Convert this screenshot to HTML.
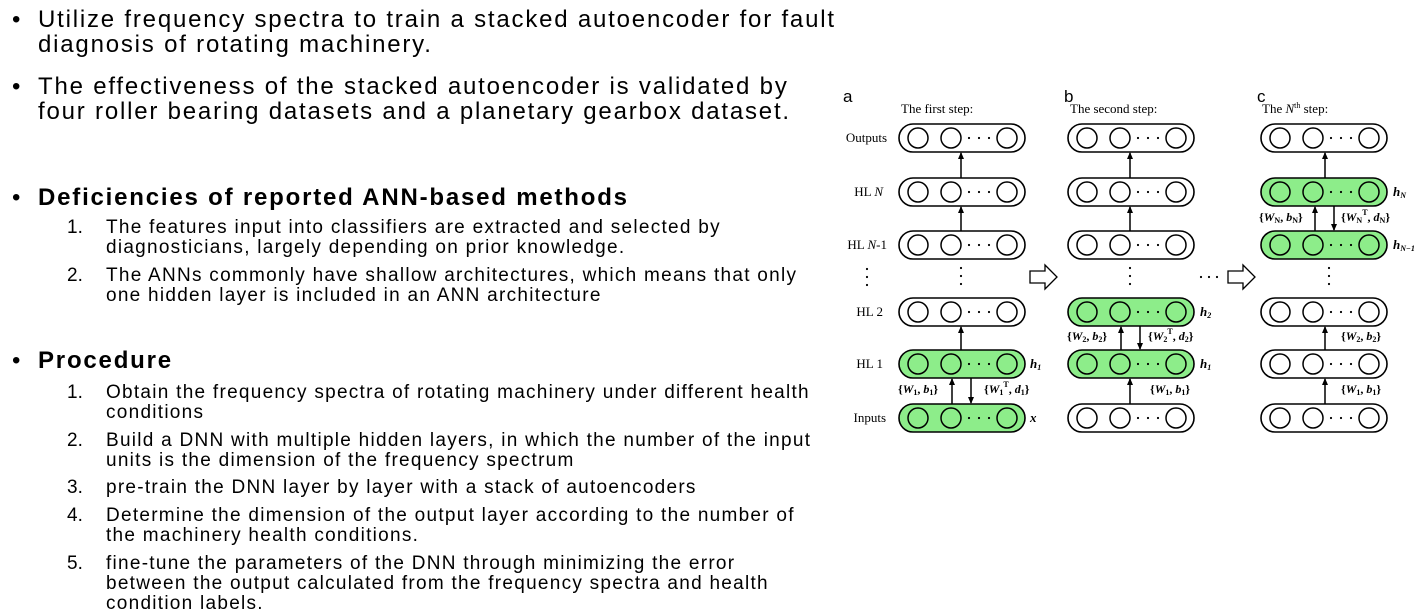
<!DOCTYPE html>
<html><head><meta charset="utf-8"><style>
body{margin:0;width:1420px;height:614px;background:#fff;position:relative;overflow:hidden;font-family:"Liberation Sans","Noto Sans CJK KR",sans-serif;color:#000}
.t{position:absolute;white-space:nowrap;font-size:24px;line-height:25px;letter-spacing:1.8px}
.b{position:absolute;left:12px;font-size:24px;line-height:25px}
.h{font-weight:bold}
.n{position:absolute;left:67px;font-size:19px;line-height:20px}
.s{position:absolute;left:106px;font-size:19px;line-height:20px;white-space:nowrap;letter-spacing:1.27px}
svg{position:absolute;left:0;top:0}
</style></head><body>
<div class="b" style="top:7px">•</div><div class="t" style="left:38px;top:7px">Utilize frequency spectra to train a stacked autoencoder for fault<br>diagnosis of rotating machinery.</div>
<div class="b" style="top:74px">•</div><div class="t" style="left:38px;top:74px">The effectiveness of the stacked autoencoder is validated by<br>four roller bearing datasets and a planetary gearbox dataset.</div>
<div class="b" style="top:185px">•</div><div class="t h" style="left:38px;top:185px">Deficiencies of reported ANN-based methods</div>
<div class="n" style="top:218px">1.</div><div class="s" style="top:218px">The features input into classifiers are extracted and selected by<br>diagnosticians, largely depending on prior knowledge.</div>
<div class="n" style="top:266px">2.</div><div class="s" style="top:266px">The ANNs commonly have shallow architectures, which means that only<br>one hidden layer is included in an ANN architecture</div>
<div class="b" style="top:348px">•</div><div class="t h" style="left:38px;top:348px">Procedure</div>
<div class="n" style="top:383px">1.</div><div class="s" style="top:383px">Obtain the frequency spectra of rotating machinery under different health<br>conditions</div>
<div class="n" style="top:431px">2.</div><div class="s" style="top:431px">Build a DNN with multiple hidden layers, in which the number of the input<br>units is the dimension of the frequency spectrum</div>
<div class="n" style="top:478px">3.</div><div class="s" style="top:478px">pre-train the DNN layer by layer with a stack of autoencoders</div>
<div class="n" style="top:506px">4.</div><div class="s" style="top:506px">Determine the dimension of the output layer according to the number of<br>the machinery health conditions.</div>
<div class="n" style="top:554px">5.</div><div class="s" style="top:554px">fine-tune the parameters of the DNN through minimizing the error<br>between the output calculated from the frequency spectra and health<br>condition labels.</div>

<svg width="1420" height="614" viewBox="0 0 1420 614">
<defs>
<g id="pc"><circle cx="19" cy="14" r="10" fill="none" stroke="#000" stroke-width="1.5"/><circle cx="52" cy="14" r="10" fill="none" stroke="#000" stroke-width="1.5"/><circle cx="108" cy="14" r="10" fill="none" stroke="#000" stroke-width="1.5"/><circle cx="70" cy="14" r="1.1"/><circle cx="80" cy="14" r="1.1"/><circle cx="90" cy="14" r="1.1"/></g>
<g id="pw"><rect x="0" y="0" width="126" height="28" rx="14" fill="#fff" stroke="#000" stroke-width="1.6"/><use href="#pc"/></g>
<g id="pg"><rect x="0" y="0" width="126" height="28" rx="14" fill="#8ded8a" stroke="#000" stroke-width="1.6"/><use href="#pc"/></g>
<g id="vd"><circle cx="0" cy="0" r="1.1"/><circle cx="0" cy="8" r="1.1"/><circle cx="0" cy="16" r="1.1"/></g>
<marker id="ah" markerWidth="8" markerHeight="8" refX="6" refY="4" orient="auto" markerUnits="userSpaceOnUse"><path d="M0,1 L7,4 L0,7z"/></marker>
</defs>
<g font-family="Liberation Serif,serif" font-size="13">
<text x="843" y="102" font-family="Liberation Sans,sans-serif" font-size="17">a</text>
<text x="901" y="113">The first step:</text>
<text x="1064" y="102" font-family="Liberation Sans,sans-serif" font-size="17">b</text>
<text x="1070" y="113">The second step:</text>
<text x="1257" y="102" font-family="Liberation Sans,sans-serif" font-size="17">c</text>
<text x="1262" y="113">The <tspan font-style="italic">N</tspan><tspan font-size="8" dy="-5">th</tspan><tspan dy="5"> step:</tspan></text>
<g text-anchor="end">
<text x="887" y="142">Outputs</text>
<text x="883" y="196">HL <tspan font-style="italic">N</tspan></text>
<text x="887" y="249">HL <tspan font-style="italic">N</tspan>-1</text>
<text x="883" y="316">HL 2</text>
<text x="883" y="368">HL 1</text>
<text x="886" y="422">Inputs</text>
</g>
<use href="#vd" x="867" y="269"/>
</g>
<use href="#pw" x="899" y="124"/><use href="#pw" x="899" y="178"/><use href="#pw" x="899" y="231"/>
<use href="#pw" x="899" y="298"/><use href="#pg" x="899" y="350"/><use href="#pg" x="899" y="404"/>
<use href="#vd" x="961" y="268"/>
<use href="#pw" x="1068" y="124"/><use href="#pw" x="1068" y="178"/><use href="#pw" x="1068" y="231"/>
<use href="#pg" x="1068" y="298"/><use href="#pg" x="1068" y="350"/><use href="#pw" x="1068" y="404"/>
<use href="#vd" x="1130" y="268"/>
<use href="#pw" x="1261" y="124"/><use href="#pg" x="1261" y="178"/><use href="#pg" x="1261" y="231"/>
<use href="#pw" x="1261" y="298"/><use href="#pw" x="1261" y="350"/><use href="#pw" x="1261" y="404"/>
<use href="#vd" x="1329" y="268"/>
<g stroke="#000" stroke-width="1.5" marker-end="url(#ah)">
<line x1="961" y1="178" x2="961" y2="153"/><line x1="961" y1="231" x2="961" y2="207"/><line x1="961" y1="350" x2="961" y2="327"/>
<line x1="952" y1="404" x2="952" y2="379"/><line x1="971" y1="378" x2="971" y2="403"/>
<line x1="1130" y1="178" x2="1130" y2="153"/><line x1="1130" y1="231" x2="1130" y2="207"/>
<line x1="1121" y1="350" x2="1121" y2="327"/><line x1="1140" y1="326" x2="1140" y2="349"/>
<line x1="1130" y1="404" x2="1130" y2="379"/>
<line x1="1325" y1="178" x2="1325" y2="153"/>
<line x1="1315" y1="231" x2="1315" y2="207"/><line x1="1334" y1="206" x2="1334" y2="230"/>
<line x1="1325" y1="350" x2="1325" y2="327"/><line x1="1325" y1="404" x2="1325" y2="379"/>
</g>
<g font-family="Liberation Serif,serif" font-size="12" font-weight="bold">
<text x="898" y="393">{<tspan font-style="italic">W</tspan><tspan font-size="8" dy="2">1</tspan><tspan dy="-2">, </tspan><tspan font-style="italic">b</tspan><tspan font-size="8" dy="2">1</tspan><tspan dy="-2">}</tspan></text>
<text x="984" y="393">{<tspan font-style="italic">W</tspan><tspan font-size="8" dy="2">1</tspan><tspan font-size="8" dy="-8">T</tspan><tspan dy="6">, </tspan><tspan font-style="italic">d</tspan><tspan font-size="8" dy="2">1</tspan><tspan dy="-2">}</tspan></text>
<text x="1067" y="340">{<tspan font-style="italic">W</tspan><tspan font-size="8" dy="2">2</tspan><tspan dy="-2">, </tspan><tspan font-style="italic">b</tspan><tspan font-size="8" dy="2">2</tspan><tspan dy="-2">}</tspan></text>
<text x="1148" y="340">{<tspan font-style="italic">W</tspan><tspan font-size="8" dy="2">2</tspan><tspan font-size="8" dy="-8">T</tspan><tspan dy="6">, </tspan><tspan font-style="italic">d</tspan><tspan font-size="8" dy="2">2</tspan><tspan dy="-2">}</tspan></text>
<text x="1150" y="393">{<tspan font-style="italic">W</tspan><tspan font-size="8" dy="2">1</tspan><tspan dy="-2">, </tspan><tspan font-style="italic">b</tspan><tspan font-size="8" dy="2">1</tspan><tspan dy="-2">}</tspan></text>
<text x="1259" y="221">{<tspan font-style="italic">W</tspan><tspan font-size="8" dy="2">N</tspan><tspan dy="-2">, </tspan><tspan font-style="italic">b</tspan><tspan font-size="8" dy="2">N</tspan><tspan dy="-2">}</tspan></text>
<text x="1341" y="221">{<tspan font-style="italic">W</tspan><tspan font-size="8" dy="2">N</tspan><tspan font-size="8" dy="-8">T</tspan><tspan dy="6">, </tspan><tspan font-style="italic">d</tspan><tspan font-size="8" dy="2">N</tspan><tspan dy="-2">}</tspan></text>
<text x="1341" y="340">{<tspan font-style="italic">W</tspan><tspan font-size="8" dy="2">2</tspan><tspan dy="-2">, </tspan><tspan font-style="italic">b</tspan><tspan font-size="8" dy="2">2</tspan><tspan dy="-2">}</tspan></text>
<text x="1341" y="393">{<tspan font-style="italic">W</tspan><tspan font-size="8" dy="2">1</tspan><tspan dy="-2">, </tspan><tspan font-style="italic">b</tspan><tspan font-size="8" dy="2">1</tspan><tspan dy="-2">}</tspan></text>
<g font-style="italic" font-size="13">
<text x="1030" y="368">h<tspan font-size="8" dy="2">1</tspan></text>
<text x="1030" y="422">x</text>
<text x="1200" y="316">h<tspan font-size="8" dy="2">2</tspan></text>
<text x="1200" y="368">h<tspan font-size="8" dy="2">1</tspan></text>
<text x="1393" y="196">h<tspan font-size="8" dy="2">N</tspan></text>
<text x="1393" y="249">h<tspan font-size="8" dy="2">N−1</tspan></text>
</g>
</g>
<g fill="#fff" stroke="#000" stroke-width="1.3">
<path d="M1030,271 H1045 V265 L1057,277 L1045,289 V283 H1030 Z"/>
<path d="M1228,271 H1243 V265 L1255,277 L1243,289 V283 H1228 Z"/>
</g>
<circle cx="1201" cy="277" r="1.1"/><circle cx="1209" cy="277" r="1.1"/><circle cx="1217" cy="277" r="1.1"/>
</svg>
</body></html>
